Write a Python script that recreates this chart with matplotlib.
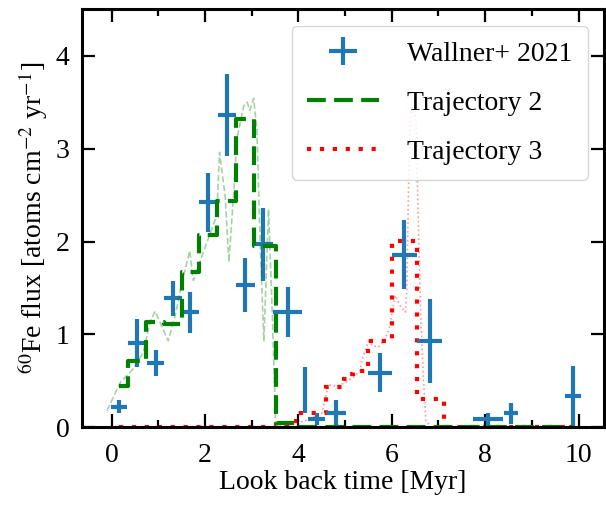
import numpy as np
import matplotlib
matplotlib.use("Agg")
import matplotlib.pyplot as plt
from matplotlib.ticker import MultipleLocator

# Wallner+ 2021 data points
wal_t = [0.16, 0.55, 0.94, 1.32, 1.68, 2.06, 2.47, 2.86, 3.25, 3.77, 4.14, 4.39,
         4.81, 5.75, 6.27, 6.81, 8.07, 8.55, 9.89]
wal_f = [0.22, 0.91, 0.69, 1.39, 1.24, 2.42, 3.36, 1.53, 1.97, 1.24, 0.40, 0.09,
         0.16, 0.59, 1.86, 0.93, 0.09, 0.15, 0.34]
wal_xerr = [0.17, 0.20, 0.19, 0.19, 0.20, 0.18, 0.20, 0.20, 0.20, 0.31, 0.05, 0.19,
            0.22, 0.25, 0.26, 0.26, 0.32, 0.15, 0.17]
wal_yerr = [0.07, 0.26, 0.14, 0.19, 0.22, 0.32, 0.44, 0.29, 0.39, 0.27, 0.25, 0.06,
            0.14, 0.21, 0.37, 0.45, 0.07, 0.11, 0.32]

# trajectory 2, binned onto the Wallner bins
traj2_binned = [0.45, 0.71, 1.13, 1.11, 1.67, 2.07, 2.44, 3.32, 1.95, 0.05, 0.0, 0.0,
                0.0, 0.0, 0.0, 0.0, 0.0, 0.0, 0.0]

# trajectory 2, unbinned
traj2_t = [-0.10, 0.18, 0.46, 0.68, 0.82, 0.93, 1.07, 1.21, 1.36, 1.48, 1.67, 1.75,
           1.96, 2.25, 2.31, 2.43, 2.51, 2.61, 2.68, 2.83, 2.90, 2.96, 3.04, 3.11,
           3.18, 3.26, 3.36, 3.44, 3.51, 3.58]
traj2_f = [0.18, 0.48, 0.63, 0.81, 1.13, 1.25, 1.09, 0.93, 1.20, 1.50, 1.90, 1.58,
           1.88, 2.28, 2.96, 2.49, 1.78, 2.49, 3.10, 3.46, 3.50, 3.41, 3.54, 3.21,
           2.00, 0.93, 2.35, 1.24, 0.05, 0.0]

# trajectory 3, binned
traj3_edges = [0.16, 3.51, 3.955, 4.60, 4.97, 5.07, 5.16, 5.50, 6.01, 6.54, 7.11, 9.89]
traj3_binned = [0.0, 0.03, 0.16, 0.44, 0.52, 0.57, 0.61, 0.93, 2.01, 0.31, 0.0]

# trajectory 3, unbinned
traj3_t = [3.50, 3.95, 4.25, 4.50, 4.57, 4.64, 4.80, 5.00, 5.20, 5.32, 5.36, 5.45,
           5.50, 5.60, 5.71, 5.85, 5.95, 6.07, 6.18, 6.29, 6.32, 6.36, 6.41, 6.47,
           6.52, 6.56, 6.62, 6.68, 6.73, 6.85]
traj3_f = [0.0, 0.04, 0.09, 0.15, 0.30, 0.46, 0.44, 0.48, 0.55, 0.61, 0.73, 0.85,
           0.93, 0.88, 0.86, 0.95, 1.07, 1.42, 1.31, 1.24, 1.45, 2.60, 3.46, 3.40,
           3.30, 2.40, 1.20, 0.50, 0.07, 0.0]

plt.rcParams["font.family"] = "serif"
plt.rcParams["font.serif"] = ["Liberation Serif", "DejaVu Serif"]
plt.rcParams["mathtext.fontset"] = "stix"
plt.rcParams["font.size"] = 20

fig, ax = plt.subplots(figsize=(6.06, 5.07), dpi=100)
fig.subplots_adjust(left=0.135, right=0.997, bottom=0.157, top=0.982)

eb = ax.errorbar(wal_t, wal_f, xerr=wal_xerr, yerr=wal_yerr, fmt="none",
                 ecolor="#1f77b4", elinewidth=3, label="Wallner+ 2021")

l2, = ax.plot(wal_t, traj2_binned, drawstyle="steps-mid", color="g", lw=3,
              dashes=(4.5, 2), label="Trajectory 2")
ax.plot(traj2_t, traj2_f, color="g", lw=1.2, ls="--", alpha=0.35)

l3 = ax.stairs(traj3_binned, traj3_edges, color="r", lw=3, linestyle=(0, (1, 2.1)),
               baseline=None, label="Trajectory 3")
ax.plot(traj3_t, traj3_f, color="r", lw=1.2, ls=":", alpha=0.4)

ax.set_xlim(-0.64, 10.55)
ax.set_ylim(0, 4.5)
ax.xaxis.set_major_locator(MultipleLocator(2))
ax.xaxis.set_minor_locator(MultipleLocator(1))
ax.yaxis.set_major_locator(MultipleLocator(1))

ax.tick_params(which="both", direction="in", top=True, right=True, width=1.6)
ax.tick_params(axis="x", which="both", pad=11)
ax.tick_params(axis="y", which="both", pad=9)
ax.tick_params(which="major", length=9.5)
ax.tick_params(which="minor", length=5)
for sp in ax.spines.values():
    sp.set_linewidth(2.2)

ax.set_xlabel("Look back time [Myr]", labelpad=2)
ax.set_ylabel(r"$^{60}$Fe flux [atoms cm$^{-2}$ yr$^{-1}$]")
ax.legend([eb, l2, l3], ["Wallner+ 2021", "Trajectory 2", "Trajectory 3"],
          loc="upper right", handlelength=2.6, handletextpad=1.0,
          labelspacing=0.85, borderpad=0.55, borderaxespad=0.6)

fig.savefig("out.png", dpi=100)
